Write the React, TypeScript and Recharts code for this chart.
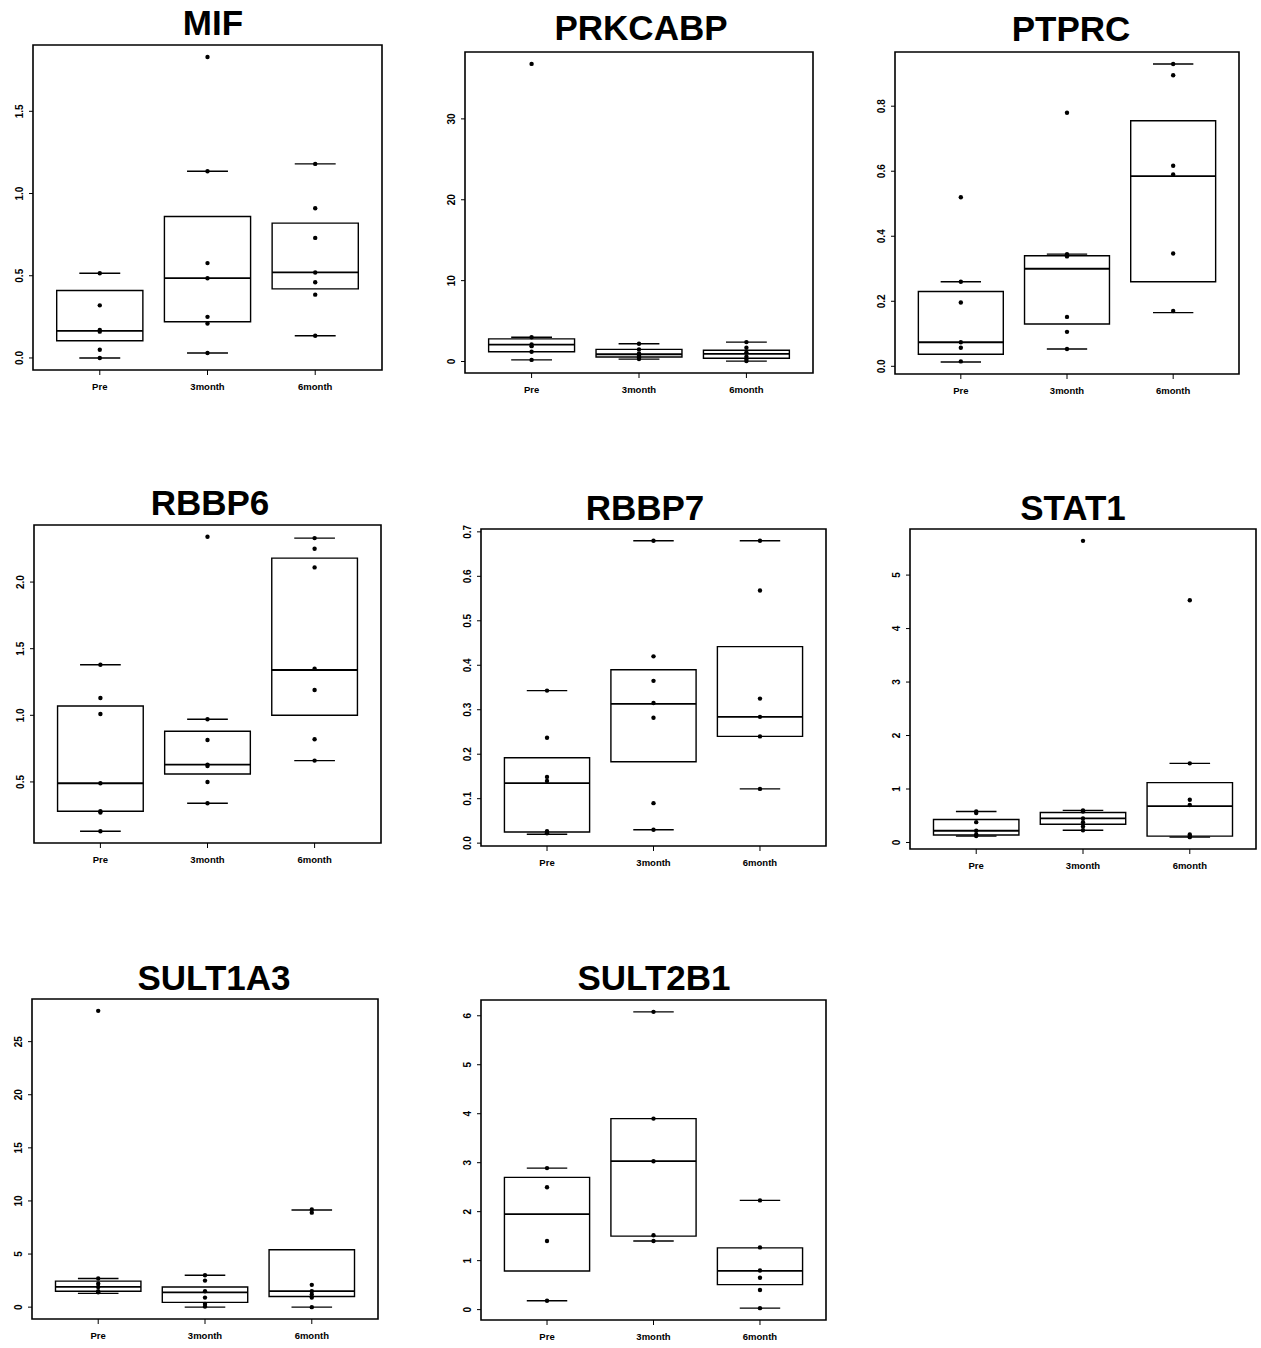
import React from "react";
import {
  ComposedChart,
  ReferenceArea,
  ReferenceLine,
  Scatter,
  XAxis,
  YAxis,
} from "recharts";

const groups = ["Pre", "3month", "6month"];

// box stats per group: [lower whisker, Q1, median, Q3, upper whisker]
const mifBoxes = [
  [0.0, 0.105, 0.165, 0.41, 0.515],
  [0.03, 0.22, 0.485, 0.86, 1.135],
  [0.135, 0.42, 0.52, 0.82, 1.18],
];
const mifPoints = [
  [0.515, 0.32, 0.17, 0.16, 0.05, 0.0],
  [1.83, 1.135, 0.577, 0.485, 0.25, 0.21, 0.03],
  [1.18, 0.91, 0.73, 0.52, 0.46, 0.385, 0.135],
];
const mifTicks = ["0.0", "0.5", "1.0", "1.5"];

const prkcabpBoxes = [
  [0.2, 1.2, 2.1, 2.8, 3.0],
  [0.3, 0.55, 0.9, 1.5, 2.2],
  [0.05, 0.4, 0.95, 1.4, 2.4],
];
const prkcabpPoints = [
  [36.8, 3.0, 2.1, 1.9, 1.2, 0.2],
  [2.2, 1.5, 1.0, 0.7, 0.5, 0.3],
  [2.4, 1.7, 1.1, 0.6, 0.3, 0.05],
];
const prkcabpTicks = ["0", "10", "20", "30"];

const ptprcBoxes = [
  [0.013, 0.037, 0.074, 0.23, 0.26],
  [0.053, 0.13, 0.3, 0.34, 0.345],
  [0.165, 0.26, 0.585, 0.755, 0.93],
];
const ptprcPoints = [
  [0.52, 0.26, 0.196, 0.074, 0.057, 0.015],
  [0.78, 0.345, 0.338, 0.152, 0.106, 0.053],
  [0.93, 0.895, 0.617, 0.59, 0.347, 0.17],
];
const ptprcTicks = ["0.0", "0.2", "0.4", "0.6", "0.8"];

const rbbp6Boxes = [
  [0.13, 0.28, 0.49, 1.07, 1.38],
  [0.34, 0.56, 0.63, 0.88, 0.97],
  [0.66, 1.0, 1.34, 2.18, 2.33],
];
const rbbp6Points = [
  [1.38, 1.13, 1.01, 0.49, 0.28, 0.27, 0.13],
  [2.34, 0.97, 0.815, 0.63, 0.62, 0.5, 0.34],
  [2.33, 2.25, 2.11, 1.35, 1.19, 0.82, 0.66],
];
const rbbp6Ticks = ["0.5", "1.0", "1.5", "2.0"];

const rbbp7Boxes = [
  [0.02, 0.025, 0.135, 0.192, 0.343],
  [0.03, 0.183, 0.313, 0.39, 0.68],
  [0.122, 0.24, 0.284, 0.442, 0.68],
];
const rbbp7Points = [
  [0.343, 0.237, 0.149, 0.14, 0.027, 0.022],
  [0.68, 0.42, 0.365, 0.315, 0.282, 0.09, 0.03],
  [0.68, 0.568, 0.325, 0.284, 0.24, 0.122],
];
const rbbp7Ticks = ["0.0", "0.1", "0.2", "0.3", "0.4", "0.5", "0.6", "0.7"];

const stat1Boxes = [
  [0.12, 0.14, 0.22, 0.43, 0.58],
  [0.23, 0.34, 0.45, 0.56, 0.6],
  [0.1, 0.12, 0.68, 1.12, 1.48],
];
const stat1Points = [
  [0.58, 0.55, 0.38, 0.22, 0.15, 0.12],
  [5.64, 0.6, 0.58, 0.45, 0.38, 0.3, 0.23],
  [4.53, 1.48, 0.8, 0.7, 0.15, 0.12, 0.1],
];
const stat1Ticks = ["0", "1", "2", "3", "4", "5"];

const sult1a3Boxes = [
  [1.3, 1.5, 1.9, 2.45, 2.7],
  [0.0, 0.45, 1.4, 1.9, 3.0],
  [0.0, 1.0, 1.5, 5.4, 9.15],
];
const sult1a3Points = [
  [27.9, 2.7, 2.2, 1.9, 1.5, 1.4],
  [3.0, 2.5, 1.5, 0.9, 0.3, 0.05],
  [9.2, 8.9, 2.1, 1.5, 1.2, 0.9, 0.0],
];
const sult1a3Ticks = ["0", "5", "10", "15", "20", "25"];

const sult2b1Boxes = [
  [0.18, 0.79, 1.95, 2.7, 2.89],
  [1.4, 1.5, 3.03, 3.9, 6.08],
  [0.03, 0.51, 0.79, 1.26, 2.23],
];
const sult2b1Points = [
  [2.89, 2.5, 1.4, 0.18],
  [6.08, 3.9, 3.03, 1.52, 1.4],
  [2.23, 1.27, 0.8, 0.65, 0.4, 0.03],
];
const sult2b1Ticks = ["0", "1", "2", "3", "4", "5", "6"];

const panels = [
  { name: "MIF", boxes: mifBoxes, points: mifPoints, ticks: mifTicks },
  { name: "PRKCABP", boxes: prkcabpBoxes, points: prkcabpPoints, ticks: prkcabpTicks },
  { name: "PTPRC", boxes: ptprcBoxes, points: ptprcPoints, ticks: ptprcTicks },
  { name: "RBBP6", boxes: rbbp6Boxes, points: rbbp6Points, ticks: rbbp6Ticks },
  { name: "RBBP7", boxes: rbbp7Boxes, points: rbbp7Points, ticks: rbbp7Ticks },
  { name: "STAT1", boxes: stat1Boxes, points: stat1Points, ticks: stat1Ticks },
  { name: "SULT1A3", boxes: sult1a3Boxes, points: sult1a3Points, ticks: sult1a3Ticks },
  { name: "SULT2B1", boxes: sult2b1Boxes, points: sult2b1Points, ticks: sult2b1Ticks },
];

// plot frame position + title anchor for each panel
const frames = [
  { fx: 33, fy: 45, fw: 349, fh: 325, tx: 213, ty: 35 },
  { fx: 465, fy: 52, fw: 348, fh: 321, tx: 641, ty: 40 },
  { fx: 895, fy: 52, fw: 344, fh: 322, tx: 1071, ty: 41 },
  { fx: 34, fy: 525, fw: 347, fh: 318, tx: 210, ty: 515 },
  { fx: 481, fy: 529, fw: 345, fh: 317, tx: 645, ty: 520 },
  { fx: 910, fy: 529, fw: 346, fh: 320, tx: 1073, ty: 520 },
  { fx: 32, fy: 999, fw: 346, fh: 320, tx: 214, ty: 990 },
  { fx: 481, fy: 1000, fw: 345, fh: 320, tx: 654, ty: 990 },
];

const FONT = "'Liberation Sans', Arial, Helvetica, sans-serif";
const Y_AXIS_W = 30;
const X_AXIS_H = 30;
const PAD = 12;
const X_DOMAIN: [number, number] = [0.38, 3.62];
const BOX_HALF = 0.4;
const CAP_HALF = 0.19;

function XTick({ x, y, payload }: any) {
  return (
    <text
      x={x}
      y={y + 13}
      textAnchor="middle"
      fontSize={9.5}
      fontWeight="bold"
      fontFamily={FONT}
      fill="#000"
    >
      {groups[payload.value - 1]}
    </text>
  );
}

function makeYTick(labels: string[]) {
  return function YTick({ x, y, payload }: any) {
    const label = labels.find((l) => Number(l) === payload.value) ?? String(payload.value);
    return (
      <text
        transform={`translate(${x - 4},${y}) rotate(-90)`}
        textAnchor="middle"
        fontSize={10}
        fontWeight="bold"
        fontFamily={FONT}
        fill="#000"
      >
        {label}
      </text>
    );
  };
}

function Dot({ cx, cy }: any) {
  return <circle cx={cx} cy={cy} r={2.2} fill="#000" />;
}

function BoxPanel({ panel, frame }: any) {
  const { boxes, points, ticks } = panel;
  const all = [...points.flat(), ...boxes.flat()];
  const lo = Math.min(...all);
  const hi = Math.max(...all);
  const pad = (hi - lo) * 0.04;
  const yDomain: [number, number] = [lo - pad, hi + pad];
  const scatterData = points.flatMap((arr: number[], i: number) =>
    arr.map((v) => ({ x: i + 1, y: v }))
  );
  const width = frame.fw + Y_AXIS_W + PAD;
  const height = frame.fh + X_AXIS_H + PAD;

  return (
    <div style={{ position: "absolute", left: frame.fx - Y_AXIS_W, top: frame.fy - PAD }}>
      <ComposedChart
        width={width}
        height={height}
        margin={{ top: PAD, right: PAD, bottom: 0, left: 0 }}
      >
        <XAxis
          type="number"
          dataKey="x"
          domain={X_DOMAIN}
          allowDataOverflow
          ticks={[1, 2, 3]}
          height={X_AXIS_H}
          axisLine={false}
          tickLine={{ stroke: "#000" }}
          tickSize={5}
          tick={<XTick />}
          interval={0}
        />
        <YAxis
          type="number"
          dataKey="y"
          domain={yDomain}
          allowDataOverflow
          ticks={ticks.map(Number)}
          width={Y_AXIS_W}
          axisLine={false}
          tickLine={{ stroke: "#000" }}
          tickSize={4}
          tick={makeYTick(ticks)}
          interval={0}
        />
        <ReferenceArea
          x1={X_DOMAIN[0]}
          x2={X_DOMAIN[1]}
          y1={yDomain[0]}
          y2={yDomain[1]}
          fill="none"
          fillOpacity={0}
          stroke="#000"
          strokeWidth={1.6}
          ifOverflow="visible"
        />
        {boxes.map((b: number[], i: number) => (
          <ReferenceArea
            key={`box-${i}`}
            x1={i + 1 - BOX_HALF}
            x2={i + 1 + BOX_HALF}
            y1={b[1]}
            y2={b[3]}
            fill="none"
            fillOpacity={0}
            stroke="#000"
            strokeWidth={1.4}
            ifOverflow="visible"
          />
        ))}
        {boxes.map((b: number[], i: number) => (
          <ReferenceLine
            key={`med-${i}`}
            segment={[
              { x: i + 1 - BOX_HALF, y: b[2] },
              { x: i + 1 + BOX_HALF, y: b[2] },
            ]}
            stroke="#000"
            strokeWidth={1.8}
            ifOverflow="visible"
          />
        ))}
        {boxes.map((b: number[], i: number) => (
          <ReferenceLine
            key={`lo-${i}`}
            segment={[
              { x: i + 1 - CAP_HALF, y: b[0] },
              { x: i + 1 + CAP_HALF, y: b[0] },
            ]}
            stroke="#000"
            strokeWidth={1.4}
            ifOverflow="visible"
          />
        ))}
        {boxes.map((b: number[], i: number) => (
          <ReferenceLine
            key={`hi-${i}`}
            segment={[
              { x: i + 1 - CAP_HALF, y: b[4] },
              { x: i + 1 + CAP_HALF, y: b[4] },
            ]}
            stroke="#000"
            strokeWidth={1.4}
            ifOverflow="visible"
          />
        ))}
        <Scatter data={scatterData} dataKey="y" shape={<Dot />} isAnimationActive={false} />
      </ComposedChart>
    </div>
  );
}

export default function App() {
  return (
    <div
      style={{
        position: "absolute",
        left: 0,
        top: 0,
        width: 1261,
        height: 1348,
        background: "#fff",
        fontFamily: FONT,
      }}
    >
      <svg width={1261} height={1348} style={{ position: "absolute", left: 0, top: 0 }}>
        {panels.map((p, i) => (
          <text
            key={p.name}
            x={frames[i].tx}
            y={frames[i].ty}
            textAnchor="middle"
            fontSize={35}
            fontWeight="bold"
            fontFamily={FONT}
            fill="#000"
          >
            {p.name}
          </text>
        ))}
      </svg>
      {panels.map((p, i) => (
        <BoxPanel key={p.name} panel={p} frame={frames[i]} />
      ))}
    </div>
  );
}
